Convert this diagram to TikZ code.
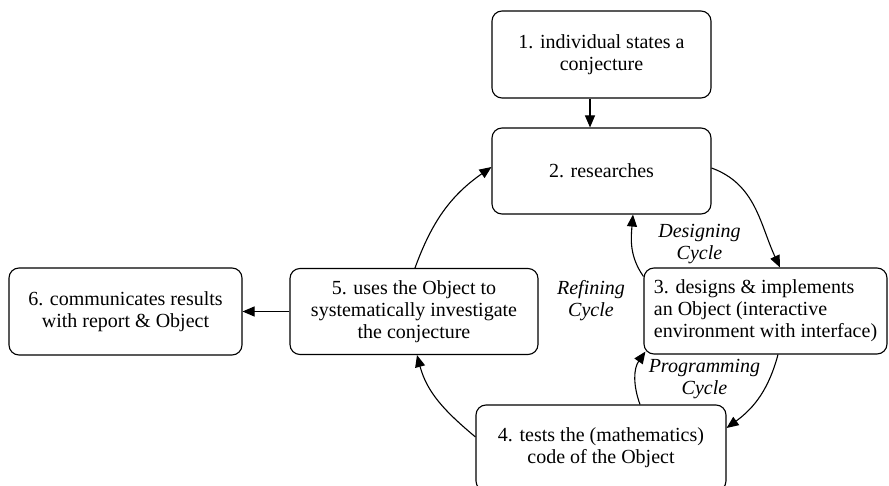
\documentclass[tikz,border=0pt]{standalone}
\usepackage{fontspec}
\setmainfont{Liberation Serif}
\usetikzlibrary{arrows.meta}
\begin{document}
\begin{tikzpicture}[x=1pt,y=1pt,
  stage/.style={draw, line width=1.1pt, rounded corners=10pt, inner sep=4pt,
    font=\fontsize{20}{22}\selectfont},
  cyc/.style={font=\fontsize{20}{22}\selectfont\itshape, align=center},
  link/.style={line width=1.1pt, -{Triangle[length=12pt,width=10pt]}}]
\useasboundingbox (0,0) rectangle (889,-486);

% stages of the cycle
\node[stage, minimum width=219pt, minimum height=87pt, align=center] (b1) at (601.5,-54.5)
  {1. individual states a\\conjecture};
\node[stage, minimum width=219pt, minimum height=86pt, align=center] (b2) at (601.5,-171)
  {2. researches};
\node[stage, minimum width=243pt, minimum height=86pt, align=left] (b3) at (765.5,-311)
  {3. designs \& implements\\an Object (interactive\\environment with interface)};
\node[stage, minimum width=250pt, minimum height=86pt, align=center] (b4) at (601,-448)
  {4. tests the (mathematics)\\code of the Object};
\node[stage, minimum width=248pt, minimum height=86pt, align=center] (b5) at (414,-311.5)
  {5. uses the Object to\\systematically investigate\\the conjecture};
\node[stage, minimum width=233pt, minimum height=87pt, align=center] (b6) at (125.5,-311.5)
  {6. communicates results\\with report \& Object};

% cycle names
\node[cyc] (dc) at (699.5,-244) {Designing\\Cycle};
\node[cyc] (rc) at (591,-301) {Refining\\Cycle};
\node[cyc] (pc) at (704.5,-379) {Programming\\Cycle};

% straight links
\draw[link] ([xshift=-11.5pt]b1.south) -- ([xshift=-11.5pt]b2.north);
\draw[link] (b5) -- (b6);

% curved links
\draw[link] ([yshift=3pt]b2.east) to[out=-20, in=115] ([xshift=14.5pt]b3.north);
\draw[link] ([yshift=-9pt]b3.north west) to[out=125, in=-95] ([xshift=31.5pt]b2.south);
\draw[link] ([xshift=12.5pt]b3.south) to[out=-105, in=36] ([yshift=20pt]b4.east);
\draw[link] ([xshift=39pt]b4.north) to[out=110, in=-125] ([xshift=2pt,yshift=3pt]b3.south west);
\draw[link] ([yshift=11pt]b4.west) to[out=140, in=-75] ([xshift=3pt]b5.south);
\draw[link] ([xshift=1pt]b5.north) to[out=70, in=-145] ([yshift=4pt]b2.west);
\end{tikzpicture}
\end{document}
